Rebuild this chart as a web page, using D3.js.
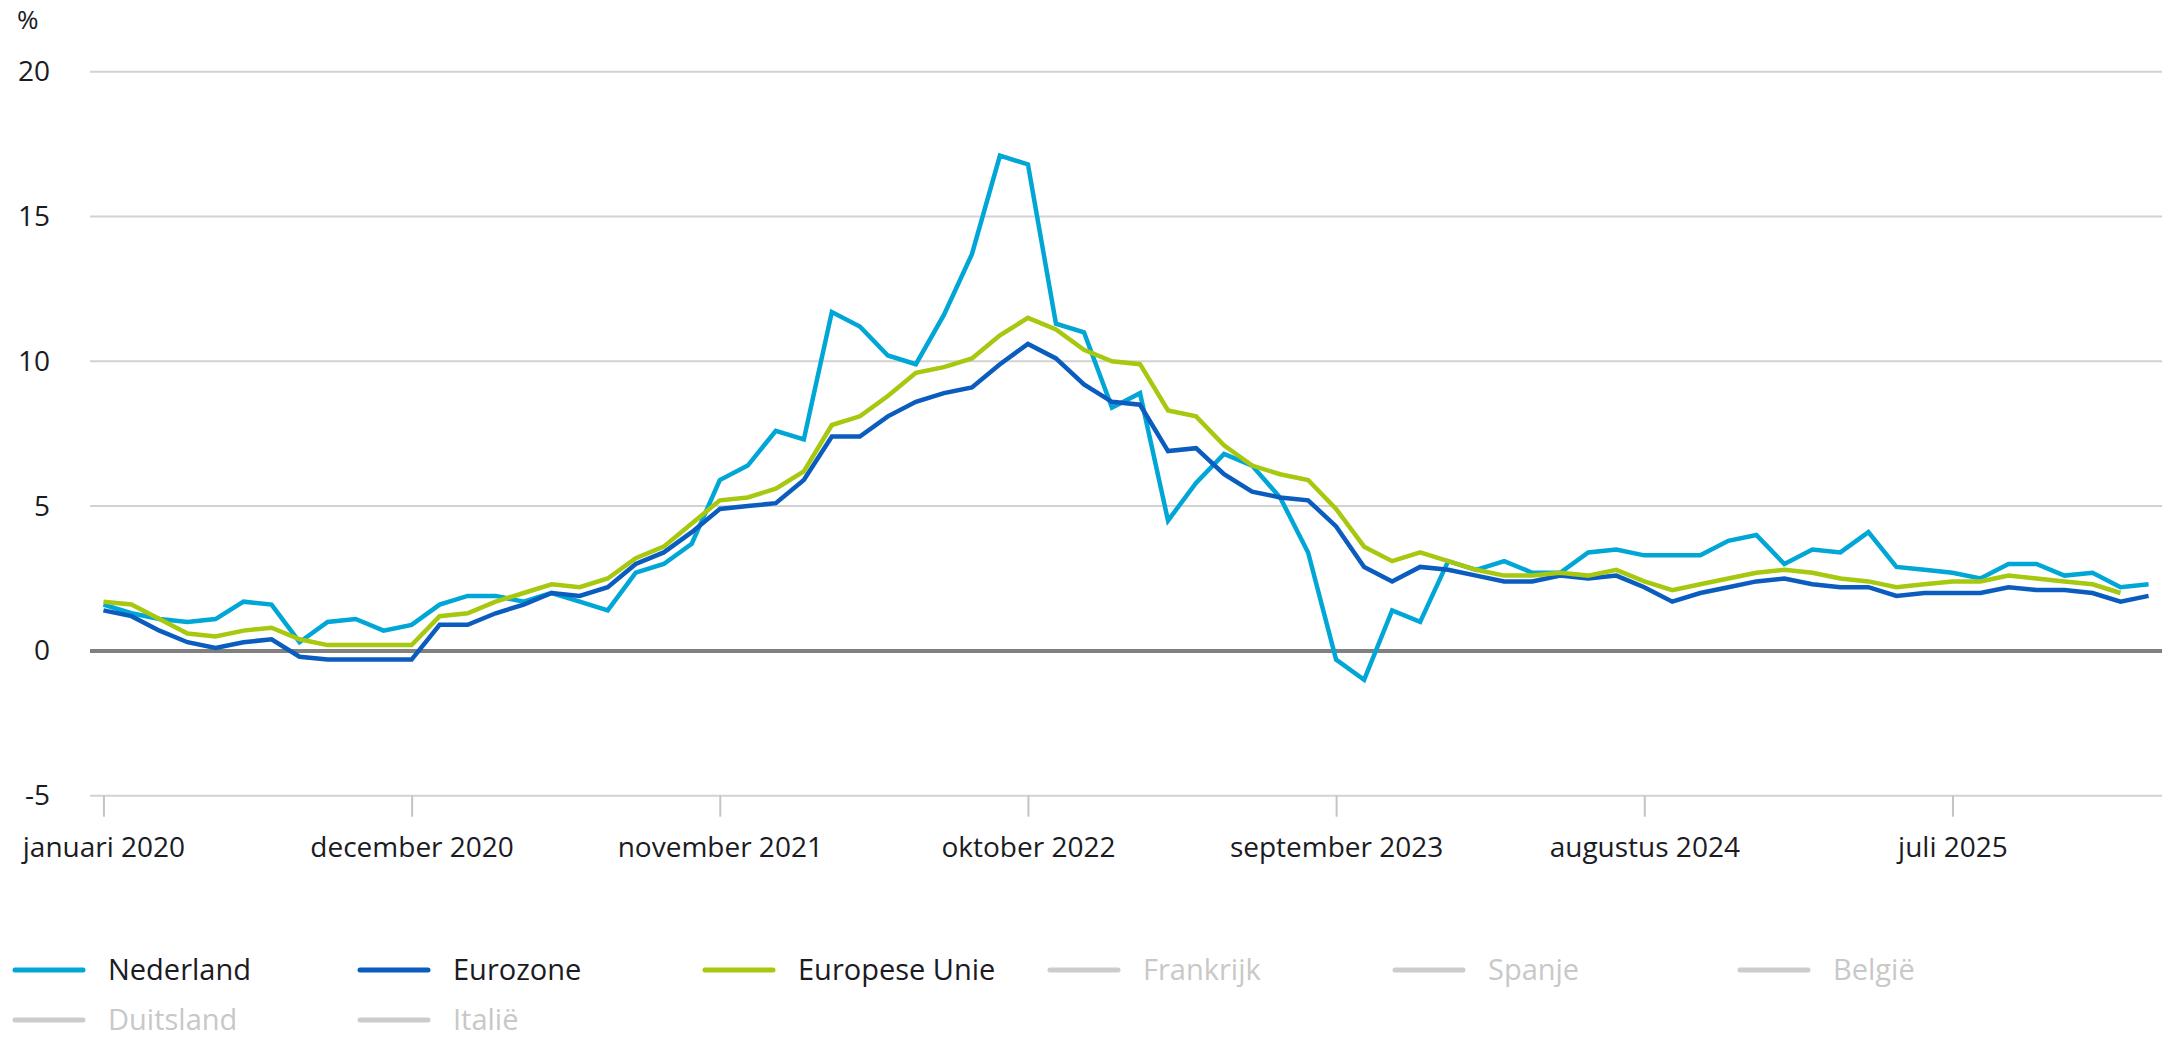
<!DOCTYPE html>
<html>
<head>
<meta charset="utf-8">
<script src="https://cdn.jsdelivr.net/npm/d3@7"></script>
<style>
  body { margin: 0; background: #fff; }
  svg text { font-family: "Open Sans", sans-serif; }
</style>
</head>
<body>
<svg id="chart"></svg>
<script>
// months jan 2020 .. feb 2026
const fmtKey = d3.timeFormat('%Y-%m');
const months = d3.timeMonth.range(new Date(2020, 0, 1), new Date(2026, 2, 1)).map(fmtKey);

const nederland = [
    1.6, 1.3, 1.1, 1.0, 1.1, 1.7, 1.6, 0.3, 1.0, 1.1, 0.7, 0.9,
    1.6, 1.9, 1.9, 1.7, 2.0, 1.7, 1.4, 2.7, 3.0, 3.7, 5.9, 6.4,
    7.6, 7.3, 11.7, 11.2, 10.2, 9.9, 11.6, 13.7, 17.1, 16.8, 11.3, 11.0,
    8.4, 8.9, 4.5, 5.8, 6.8, 6.4, 5.3, 3.4, -0.3, -1.0, 1.4, 1.0,
    3.1, 2.8, 3.1, 2.7, 2.7, 3.4, 3.5, 3.3, 3.3, 3.3, 3.8, 4.0,
    3.0, 3.5, 3.4, 4.1, 2.9, 2.8, 2.7, 2.5, 3.0, 3.0, 2.6, 2.7,
    2.2, 2.3
];
const eurozone = [
    1.4, 1.2, 0.7, 0.3, 0.1, 0.3, 0.4, -0.2, -0.3, -0.3, -0.3, -0.3,
    0.9, 0.9, 1.3, 1.6, 2.0, 1.9, 2.2, 3.0, 3.4, 4.1, 4.9, 5.0,
    5.1, 5.9, 7.4, 7.4, 8.1, 8.6, 8.9, 9.1, 9.9, 10.6, 10.1, 9.2,
    8.6, 8.5, 6.9, 7.0, 6.1, 5.5, 5.3, 5.2, 4.3, 2.9, 2.4, 2.9,
    2.8, 2.6, 2.4, 2.4, 2.6, 2.5, 2.6, 2.2, 1.7, 2.0, 2.2, 2.4,
    2.5, 2.3, 2.2, 2.2, 1.9, 2.0, 2.0, 2.0, 2.2, 2.1, 2.1, 2.0,
    1.7, 1.9
];
const europeseUnie = [
    1.7, 1.6, 1.1, 0.6, 0.5, 0.7, 0.8, 0.4, 0.2, 0.2, 0.2, 0.2,
    1.2, 1.3, 1.7, 2.0, 2.3, 2.2, 2.5, 3.2, 3.6, 4.4, 5.2, 5.3,
    5.6, 6.2, 7.8, 8.1, 8.8, 9.6, 9.8, 10.1, 10.9, 11.5, 11.1, 10.4,
    10.0, 9.9, 8.3, 8.1, 7.1, 6.4, 6.1, 5.9, 4.9, 3.6, 3.1, 3.4,
    3.1, 2.8, 2.6, 2.6, 2.7, 2.6, 2.8, 2.4, 2.1, 2.3, 2.5, 2.7,
    2.8, 2.7, 2.5, 2.4, 2.2, 2.3, 2.4, 2.4, 2.6, 2.5, 2.4, 2.3,
    2.0
];

const tickMonths = ['2020-01', '2020-12', '2021-11', '2022-10', '2023-09', '2024-08', '2025-07'];
const tickLabels = ['januari 2020', 'december 2020', 'november 2021', 'oktober 2022', 'september 2023', 'augustus 2024', 'juli 2025'];
const yTicks = [-5, 0, 5, 10, 15, 20];

// legend: active series first, greyed-out ones after
const legendNames = ['Nederland', 'Eurozone', 'Europese Unie', 'Frankrijk', 'Spanje', 'België', 'Duitsland', 'Italië'];
const legendColors = ['#00a6d6', '#0b5cbf', '#a6c80f', '#cccccc', '#cccccc', '#cccccc', '#cccccc', '#cccccc'];

const width = 2162, height = 1037;
const svg = d3.select('#chart').attr('width', width).attr('height', height);

const x = d3.scalePoint()
    .domain(months)
    .range([90, 2162])
    .padding(0.48);

const y = d3.scaleLinear()
    .domain([-5, 20])
    .range([795.7, 71.7]);

// gridlines
svg.append('g')
    .selectAll('line')
    .data(yTicks)
    .enter().append('line')
    .attr('x1', 90)
    .attr('x2', width)
    .attr('y1', d => y(d))
    .attr('y2', d => y(d))
    .attr('stroke', d => d === 0 ? '#808080' : '#d2d2d2')
    .attr('stroke-width', d => d === 0 ? 4 : 2);

// y labels (plain hyphen for -5, like the original)
const yAxis = svg.append('g')
    .attr('transform', 'translate(50,0)')
    .call(d3.axisLeft(y).tickValues(yTicks).tickSize(0).tickPadding(0).tickFormat(d => String(d)));
yAxis.select('.domain').remove();
yAxis.selectAll('text')
    .attr('font-size', 28)
    .attr('fill', '#1b1b24');

svg.append('text')
    .attr('x', 17)
    .attr('y', 29)
    .attr('font-size', 26)
    .attr('fill', '#1b1b24')
    .text('%');

// x axis
const xAxis = svg.append('g')
    .attr('transform', `translate(0,${y(-5)})`)
    .call(d3.axisBottom(x)
        .tickValues(tickMonths)
        .tickFormat((d, i) => tickLabels[i])
        .tickSize(21)
        .tickPadding(20));
xAxis.select('.domain').remove();
xAxis.selectAll('.tick line').attr('stroke', '#c4c4c4').attr('stroke-width', 2);
xAxis.selectAll('.tick text')
    .attr('font-size', 28)
    .attr('fill', '#1b1b24');

// lines
const seriesData = [nederland, eurozone, europeseUnie];
const line = d3.line()
    .x((d, i) => x(months[i]))
    .y(d => y(d));

svg.append('g')
    .selectAll('path')
    .data(seriesData)
    .enter().append('path')
    .attr('d', d => line(d))
    .attr('fill', 'none')
    .attr('stroke', (d, i) => legendColors[i])
    .attr('stroke-width', 4.5)
    .attr('stroke-linejoin', 'miter');

// legend
const legend = svg.append('g')
    .selectAll('g')
    .data(legendNames)
    .enter().append('g')
    .attr('transform', (d, i) => `translate(${15 + (i % 6) * 345},${i < 6 ? 970 : 1020})`);

legend.append('line')
    .attr('x1', 0)
    .attr('x2', 68)
    .attr('stroke', (d, i) => legendColors[i])
    .attr('stroke-width', 5)
    .attr('stroke-linecap', 'round');

legend.append('text')
    .attr('x', 93)
    .attr('dy', '0.35em')
    .attr('font-size', 29)
    .attr('fill', (d, i) => i < 3 ? '#1b1b24' : '#c8c8c8')
    .text(d => d);
</script>
</body>
</html>
